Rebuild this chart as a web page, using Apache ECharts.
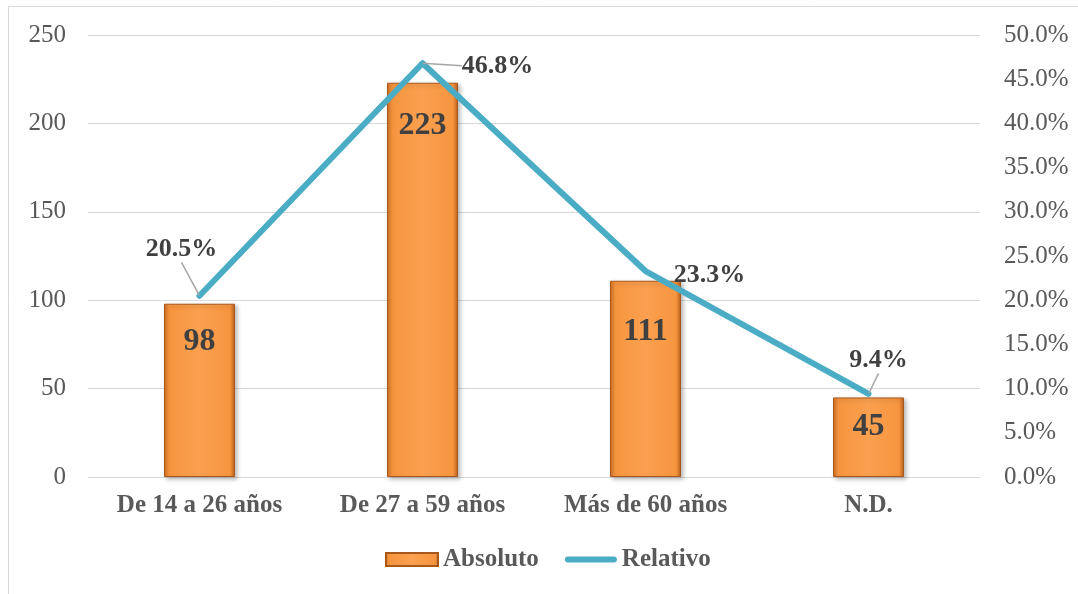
<!DOCTYPE html>
<html>
<head>
<meta charset="utf-8">
<script src="https://cdn.jsdelivr.net/npm/echarts@6/dist/echarts.min.js"></script>
<style>
  html, body { margin: 0; padding: 0; background: #fff; }
  #chart { width: 1078px; height: 594px; }
</style>
</head>
<body>
<div id="chart"></div>
<script>
// Age groups with absolute counts and relative share (%)
const categories = ['De 14 a 26 años', 'De 27 a 59 años', 'Más de 60 años', 'N.D.'];
const absoluto = [98, 223, 111, 45];
const relativo = [20.5, 46.8, 23.3, 9.4];
// Offsets of the percentage labels away from their points
const labelShift = [[-18, -28], [75, 21], [64, 23], [10, -15]];
// Which percentage labels get a leader line
const leaderShown = [true, true, false, true];
// Gap between each bar top and its count label
const countLabelGap = [22, 27, 35, 13];

const FONT = '"Liberation Serif", "DejaVu Serif", serif';
const chart = echarts.init(document.getElementById('chart'));

const barFill = new echarts.graphic.LinearGradient(0, 0, 1, 0, [
  { offset: 0, color: '#CF6E22' },
  { offset: 0.07, color: '#F7953F' },
  { offset: 0.5, color: '#FAA050' },
  { offset: 0.93, color: '#F7953F' },
  { offset: 1, color: '#B9601D' }
]);

chart.setOption({
  backgroundColor: '#fff',
  animation: false,
  graphic: [{
    type: 'rect',
    shape: { x: 8.5, y: 6.5, width: 1200, height: 700 },
    style: { fill: 'none', stroke: '#D9D9D9', lineWidth: 1 },
    silent: true, z: -10
  }],
  grid: { left: 88, right: 98, top: 35, bottom: 117 },
  legend: {
    left: 385, top: 547, padding: 0,
    itemWidth: 52, itemHeight: 13, itemGap: 26,
    textStyle: { fontFamily: FONT, fontSize: 25, fontWeight: 'bold', color: '#595959' },
    data: [
      { name: 'Absoluto', icon: 'rect' },
      { name: 'Relativo', icon: 'path://M3,0 L49,0 A3,3 0 0 1 49,6 L3,6 A3,3 0 0 1 3,0 Z' }
    ]
  },
  xAxis: {
    type: 'category',
    data: categories,
    axisTick: { show: false },
    axisLine: { lineStyle: { color: '#D9D9D9', width: 1 } },
    axisLabel: { fontFamily: FONT, fontSize: 25, fontWeight: 'bold', color: '#595959', margin: 16 }
  },
  yAxis: [{
    type: 'value', min: 0, max: 250, interval: 50,
    axisLine: { show: false }, axisTick: { show: false },
    splitLine: { lineStyle: { color: '#D9D9D9', width: 1 } },
    axisLabel: { fontFamily: FONT, fontSize: 25, color: '#595959', margin: 22 }
  }, {
    type: 'value', min: 0, max: 50, interval: 5,
    axisLine: { show: false }, axisTick: { show: false },
    splitLine: { show: false },
    axisLabel: { fontFamily: FONT, fontSize: 25, color: '#595959', margin: 24,
      formatter: v => v.toFixed(1) + '%' }
  }],
  series: [{
    name: 'Absoluto',
    type: 'bar',
    data: absoluto.map((v, i) => ({ value: v, label: { distance: countLabelGap[i] } })),
    barWidth: 71,
    itemStyle: {
      color: barFill,
      borderColor: '#A9581B', borderWidth: 1,
      shadowColor: 'rgba(0,0,0,0.25)', shadowBlur: 4, shadowOffsetX: 2, shadowOffsetY: 2
    },
    label: {
      show: true, position: 'insideTop',
      fontFamily: FONT, fontSize: 32, fontWeight: 'bold', color: '#404040'
    },
    z: 2
  }, {
    name: 'Relativo',
    type: 'line',
    yAxisIndex: 1,
    data: relativo.map((v, i) => ({ value: v, labelLine: { show: leaderShown[i] } })),
    color: '#4BACC6',
    symbol: 'circle',
    symbolSize: 1,
    showSymbol: true,
    itemStyle: { color: '#4BACC6' },
    lineStyle: { color: '#4BACC6', width: 6, cap: 'round', join: 'round' },
    label: {
      show: true, position: 'top',
      fontFamily: FONT, fontSize: 26, fontWeight: 'bold', color: '#404040',
      formatter: p => p.value.toFixed(1) + '%'
    },
    labelLine: { show: true, lineStyle: { color: '#A6A6A6', width: 1.5 } },
    labelLayout: p => ({ dx: labelShift[p.dataIndex][0], dy: labelShift[p.dataIndex][1] }),
    z: 3
  }]
});
</script>
</body>
</html>
